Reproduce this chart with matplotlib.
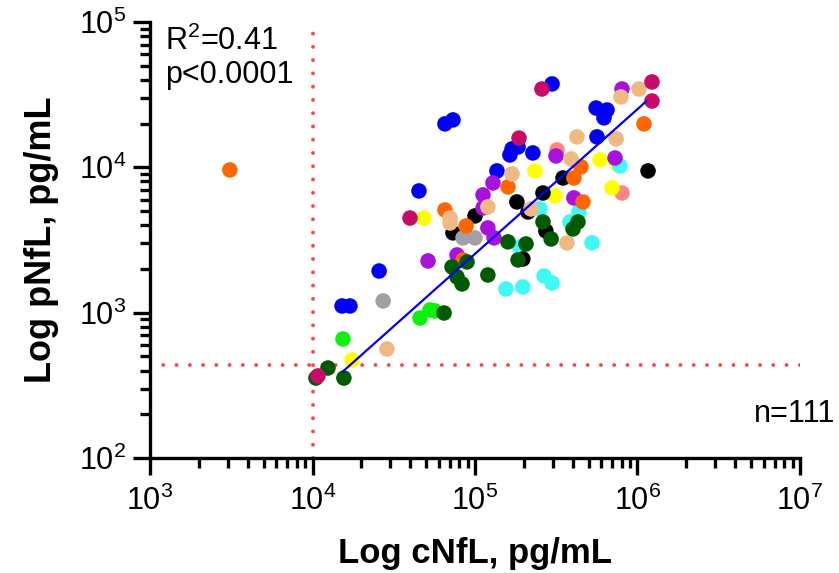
import numpy as np
import matplotlib
matplotlib.use("Agg")
import matplotlib.pyplot as plt
from matplotlib.ticker import LogLocator, FixedFormatter, NullFormatter

plt.rcParams['font.family'] = ['Liberation Sans', 'DejaVu Sans']
plt.rcParams['mathtext.default'] = 'regular'

# ---- data (cNfL, pNfL in pg/mL), grouped by colour ----
pink_x = [320000, 803000]
pink_y = [13180, 6660]

yellow_x = [17500, 48500, 234000, 311000, 588000, 697000, 748000]
yellow_y = [472, 4480, 9450, 6360, 11250, 7220, 10550]

cyan_x = [189000, 251000, 436000, 384000, 525000, 155000, 197000, 266000, 298000, 780000]
cyan_y = [2830, 5170, 4930, 4210, 3020, 1456, 1503, 1790, 1600, 10230]

black_x = [73200, 100000, 181000, 262000, 348000, 212000, 273000, 197000, 1161000]
black_y = [3540, 4630, 5780, 6660, 8450, 4930, 3650, 2340, 9450]

gray_x = [27200, 84400, 100000]
gray_y = [1204, 3270, 3270]

blue_x = [15200, 17000, 25700, 45200, 65300, 73200, 136500, 164000, 169000, 184000,
          227000, 298000, 556000, 649000, 622000, 563000]
blue_y = [1112, 1112, 1935, 6880, 19900, 21200, 9450, 12170, 13390, 13810,
          12560, 37500, 25600, 24800, 21900, 16200]

purple_x = [51400, 77500, 112000, 120000, 131000, 129000, 315000, 406000, 727000, 803000, 112000]
purple_y = [2270, 2495, 6460, 3830, 3270, 7810, 11980, 6160, 11600, 34600, 5260]

orange_x = [3100, 65300, 88100, 84400, 159600, 406000, 462000, 449000, 1096000]
orange_y = [9600, 5090, 3950, 2305, 7330, 8450, 5780, 10070, 19900]

peach_x = [28700, 70200, 70200, 120000, 169000, 221000, 390000, 424000, 738000, 791000, 1021000, 368000]
peach_y = [562, 4480, 4140, 5340, 9010, 5170, 11430, 16200, 15700, 30500, 34600, 3020]

green_x = [15400, 45900, 52800, 56700]
green_y = [659, 919, 1044, 1028]

dkgreen_x = [10500, 12450, 15600, 64500, 72200, 89300, 77500, 83200, 120000, 159600,
             184000, 262000, 294000, 206000, 430000, 401000]
dkgreen_y = [355, 416, 355, 995, 2063, 2234, 1762, 1577, 1817, 3070,
             2305, 4210, 3215, 2970, 4210, 3770]

magenta_x = [10800, 39800, 186600, 258000, 1228000, 1228000]
magenta_y = [367, 4480, 15900, 34600, 38700, 28600]

# regression line end points and threshold lines
line_x = [15400, 1130000]
line_y = [394, 28400]
cut_x = 10000
cut_y = 436

x_ticks = [1e3, 1e4, 1e5, 1e6, 1e7]
x_tick_labels = ['$10^3$', '$10^4$', '$10^5$', '$10^6$', '$10^7$']
y_ticks = [1e2, 1e3, 1e4, 1e5]
y_tick_labels = ['$10^2$', '$10^3$', '$10^4$', '$10^5$']

groups = [
    (pink_x, pink_y, '#FF8585'),
    (yellow_x, yellow_y, '#FFFF00'),
    (cyan_x, cyan_y, '#40F8F8'),
    (black_x, black_y, '#000000'),
    (gray_x, gray_y, '#A0A0A6'),
    (blue_x, blue_y, '#0000F5'),
    (purple_x, purple_y, '#A812DC'),
    (orange_x, orange_y, '#FF6600'),
    (peach_x, peach_y, '#F0B882'),
    (green_x, green_y, '#10F010'),
    (dkgreen_x, dkgreen_y, '#005A00'),
    (magenta_x, magenta_y, '#C80A68'),
]

W, H = 839, 573
fig = plt.figure(figsize=(W / 100, H / 100), dpi=100)
ax = fig.add_axes([150 / W, 1 - 458 / H, 650 / W, (458 - 22) / H])
ax.set_xscale('log')
ax.set_yscale('log')
ax.set_xlim(1e3, 1e7)
ax.set_ylim(1e2, 1e5)

for xs, ys, c in groups:
    ax.scatter(xs, ys, s=125, color=c, edgecolors='none', zorder=3, clip_on=False)

ax.plot(line_x, line_y, color='#0000F0', lw=1.6, zorder=4)

dot = (0, (0.01, 3.4))
ax.axvline(cut_x, color='#FF4545', lw=2.8, linestyle=dot, dash_capstyle='round', zorder=2)
ax.axhline(cut_y, color='#FF4545', lw=2.8, linestyle=dot, dash_capstyle='round', zorder=2)

for side in ['top', 'right']:
    ax.spines[side].set_visible(False)
for side in ['left', 'bottom']:
    ax.spines[side].set_linewidth(2.4)

ax.set_xticks(x_ticks)
ax.xaxis.set_major_formatter(FixedFormatter(x_tick_labels))
ax.set_yticks(y_ticks)
ax.yaxis.set_major_formatter(FixedFormatter(y_tick_labels))
ax.xaxis.set_minor_locator(LogLocator(base=10, subs=np.arange(2, 10)))
ax.yaxis.set_minor_locator(LogLocator(base=10, subs=np.arange(2, 10)))
ax.xaxis.set_minor_formatter(NullFormatter())
ax.yaxis.set_minor_formatter(NullFormatter())
ax.tick_params(which='major', length=12, width=2.4, labelsize=22)
ax.tick_params(axis='x', which='major', pad=8)
ax.tick_params(axis='y', which='major', pad=5)
ax.tick_params(which='minor', length=7, width=2.4)

ax.set_xlabel('Log cNfL, pg/mL', fontsize=25, fontweight='bold', labelpad=14)
ax.set_ylabel('Log pNfL, pg/mL', fontsize=26, fontweight='bold', labelpad=14)

fig.text(165 / W, 1 - 41 / H, 'R$^2$=0.41', fontsize=22, va='center', ha='left')
fig.text(165 / W, 1 - 75 / H, 'p<0.0001', fontsize=22, va='center', ha='left')
fig.text(754 / W, 1 - 414 / H, 'n=111', fontsize=22, va='center', ha='left')

fig.savefig('out.png', dpi=100)
